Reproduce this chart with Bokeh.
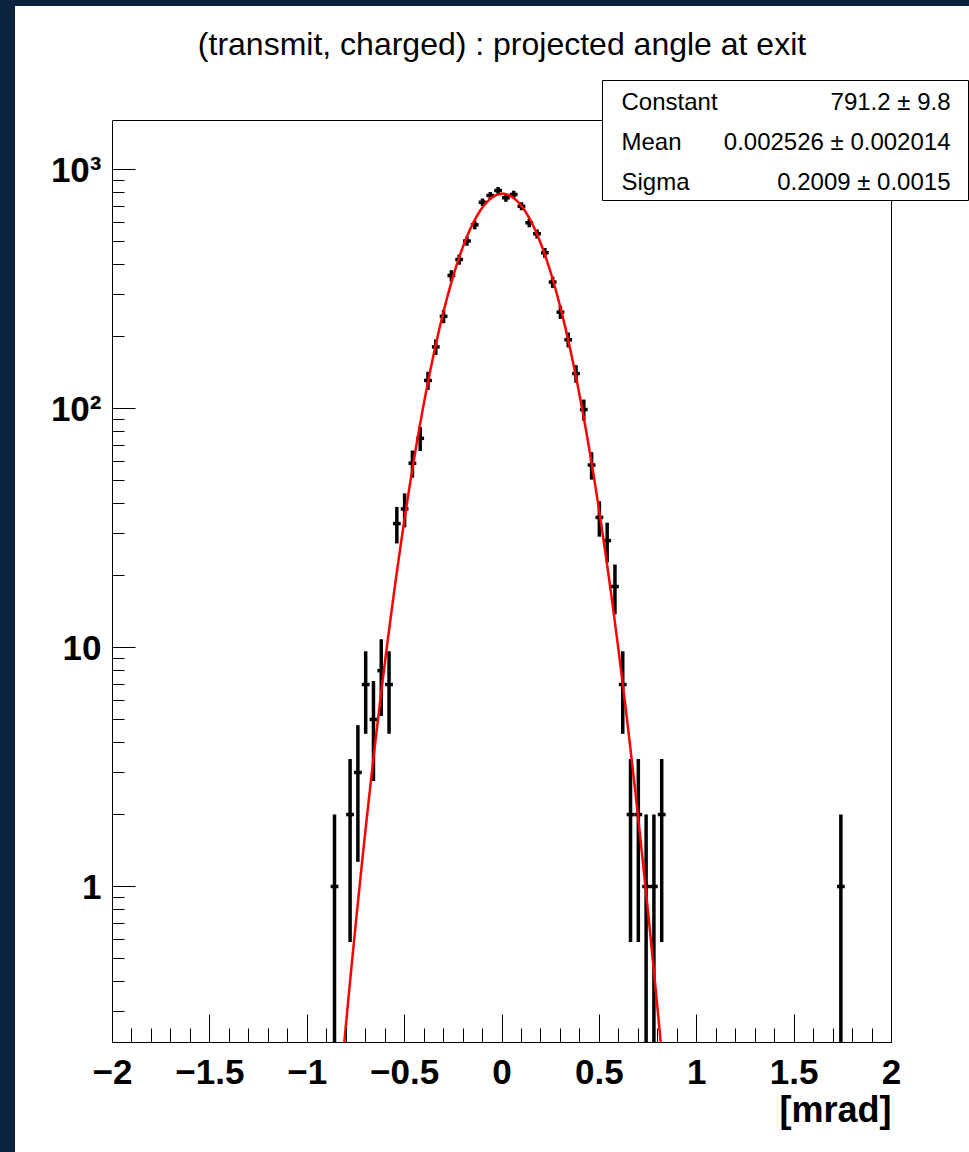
import numpy as np
from bokeh.plotting import figure
from bokeh.layouts import column, row
from bokeh.models import (Div, FixedTicker, CustomJSTickFormatter, Label,
                          BoxAnnotation, ColumnDataSource, Title)
from bokeh.embed import file_html
from bokeh.resources import INLINE

# ---- histogram: projected exit angle [mrad], 100 bins over [-2, 2] ----
x_min, x_max, n_bins = -2.0, 2.0, 100
bin_centers = [-0.86, -0.82, -0.78, -0.74, -0.70, -0.66, -0.62, -0.58, -0.54,
               -0.50, -0.46, -0.42, -0.38, -0.34, -0.30, -0.26, -0.22, -0.18,
               -0.14, -0.10, -0.06, -0.02, 0.02, 0.06, 0.10, 0.14, 0.18, 0.22,
               0.26, 0.30, 0.34, 0.38, 0.42, 0.46, 0.50, 0.54, 0.58, 0.62,
               0.66, 0.70, 0.74, 0.78, 0.82, 1.74]
bin_counts = [1, 0, 2, 3, 7, 5, 8, 7, 33,
              38, 59, 75, 131, 181, 243, 360, 420, 502,
              587, 730, 778, 817, 761, 786, 702, 598, 538, 448,
              338, 253, 194, 140, 99, 58, 35, 28, 18, 7,
              2, 2, 1, 1, 2, 1]

# ---- gaussian fit result ----
fit_names = ["Constant", "Mean", "Sigma"]
fit_texts = ["791.2 \u00b1 9.8", "0.002526 \u00b1 0.002014", "0.2009 \u00b1 0.0015"]
fit_constant, fit_mean, fit_sigma = 791.2, 0.002526, 0.2009

# ---- axes ----
x_tick_values = [-2, -1.5, -1, -0.5, 0, 0.5, 1, 1.5, 2]
x_tick_labels = ["\u22122", "\u22121.5", "\u22121", "\u22120.5", "0", "0.5", "1", "1.5", "2"]
y_tick_values = [1, 10, 100, 1000]
y_tick_labels = ["1", "10", "10\u00b2", "10\u00b3"]
y_min, y_max = 0.2225, 1603.0

title_text = "(transmit, charged) : projected angle at exit"
x_title = "[mrad]"

NAVY = "#0b223e"
FONT = "Liberation Sans"

# ---- geometry (pixels) ----
fig_w, fig_h = 954, 1146          # white canvas
pad_left, pad_top = 97, 0          # canvas edge -> plotting area
axis_w_px, axis_h_px = 779, 922    # histogram frame size
pad_bottom = 110
extra_right = fig_w - pad_left - axis_w_px            # room right of the histogram frame
extra_top = fig_h - pad_bottom - pad_top - axis_h_px  # room above the histogram frame

# extend the data ranges so the canvas area above/right of the frame is usable
x_per_px = (x_max - x_min) / axis_w_px
x_end = x_max + extra_right * x_per_px
dec_per_px = np.log10(y_max / y_min) / axis_h_px
y_end = y_max * 10 ** (extra_top * dec_per_px)

p = figure(width=fig_w, height=fig_h, x_range=(x_min, x_end), y_range=(y_min, y_end),
           y_axis_type="log", output_backend="svg", toolbar_location=None,
           title=None, min_border_left=pad_left, min_border_right=0,
           min_border_top=pad_top, min_border_bottom=pad_bottom)
p.grid.visible = False
p.outline_line_color = None
p.background_fill_color = "white"
p.border_fill_color = "white"

# x axis: labels every 0.5, minor ticks every 0.1, ticks pointing inward
bin_w = (x_max - x_min) / n_bins
xminor = list(np.round(np.arange(x_min, x_max + 1e-9, 0.1), 2))
p.xaxis.ticker = FixedTicker(ticks=x_tick_values, minor_ticks=xminor)
p.xaxis.formatter = CustomJSTickFormatter(
    args=dict(vals=x_tick_values, labs=x_tick_labels),
    code="const i = vals.findIndex(v => Math.abs(v - tick) < 1e-6); return i >= 0 ? labs[i] : '';")
p.xaxis.bounds = (x_min, x_max)
p.xaxis.major_tick_in = 28
p.xaxis.major_tick_out = 0
p.xaxis.minor_tick_in = 14
p.xaxis.minor_tick_out = 0
p.xaxis.major_label_standoff = 17

# y axis: decades with 2..9 minor ticks
yminor = [m * 10.0 ** d for d in range(-1, 4) for m in range(2, 10)]
yminor = [v for v in yminor if y_min <= v <= y_max]
p.yaxis.ticker = FixedTicker(ticks=y_tick_values, minor_ticks=yminor)
p.yaxis.formatter = CustomJSTickFormatter(
    args=dict(vals=y_tick_values, labs=y_tick_labels),
    code="const i = vals.findIndex(v => Math.abs(v - tick) < 1e-6 * v); return i >= 0 ? labs[i] : '';")
p.yaxis.bounds = (y_min, y_max)
p.yaxis.major_tick_in = 23
p.yaxis.major_tick_out = 0
p.yaxis.minor_tick_in = 12
p.yaxis.minor_tick_out = 0
p.yaxis.major_label_standoff = 11

for ax in (p.xaxis, p.yaxis):
    ax.axis_line_color = "black"
    ax.major_tick_line_color = "black"
    ax.minor_tick_line_color = "black"
    ax.major_label_text_font = FONT
    ax.major_label_text_font_style = "bold"
    ax.major_label_text_font_size = "35px"
    ax.major_label_text_color = "black"

# top and right edges of the histogram frame
p.segment(x0=[x_min, x_max], y0=[y_max, y_min], x1=[x_max, x_max], y1=[y_max, y_max],
          line_color="black", line_width=1)

# ---- data points with sqrt(N) errors ----
c = np.array(bin_centers, dtype=float)
n = np.array(bin_counts, dtype=float)
keep = n > 0
c, n = c[keep], n[keep]
err = np.sqrt(n)
lo = np.where(n - err > 0, n - err, y_min * 1e-3)
hi = n + err
src = ColumnDataSource(dict(x=c, y=n, lo=lo, hi=hi,
                            xl=c - bin_w / 2, xr=c + bin_w / 2))
p.segment(x0="x", y0="lo", x1="x", y1="hi", source=src,
          line_color="black", line_width=3.5)
p.segment(x0="xl", y0="y", x1="xr", y1="y", source=src,
          line_color="black", line_width=3.5)

# ---- fitted gaussian ----
xf = np.linspace(x_min, x_max, 1601)
yf = fit_constant * np.exp(-0.5 * ((xf - fit_mean) / fit_sigma) ** 2)
p.line(xf, yf, line_color="red", line_width=2.5)

# ---- title (screen units, origin at lower-left of the plotting area) ----
p.add_layout(Label(x=axis_w_px / 2, y=999, x_units="screen", y_units="screen",
                   text=title_text, text_align="center", text_baseline="middle",
                   text_font=FONT, text_font_size="32px", text_color="black"))

# ---- fit statistics box ----
p.add_layout(BoxAnnotation(left=490, right=856, bottom=842, top=962,
                           left_units="screen", right_units="screen",
                           bottom_units="screen", top_units="screen",
                           fill_color="white", fill_alpha=1.0,
                           line_color="black", line_width=1, line_alpha=1.0))
for i, (nm, tx) in enumerate(zip(fit_names, fit_texts)):
    yy = 941 - 40 * i
    p.add_layout(Label(x=509, y=yy, x_units="screen", y_units="screen", text=nm,
                       text_align="left", text_baseline="middle", text_font=FONT,
                       text_font_size="24px", text_color="black"))
    p.add_layout(Label(x=838, y=yy, x_units="screen", y_units="screen", text=tx,
                       text_align="right", text_baseline="middle", text_font=FONT,
                       text_font_size="24px", text_color="black"))

# ---- x axis title, right-aligned with the histogram frame ----
p.add_layout(Title(text=x_title, align="right", offset=extra_right,
                   text_font=FONT, text_font_style="bold", text_font_size="36px",
                   text_color="black", standoff=0), "below")

# ---- page border ----
top_strip = Div(width=969, height=6, margin=0, styles={"background-color": NAVY})
left_strip = Div(width=15, height=fig_h, margin=0, styles={"background-color": NAVY})
page = column(top_strip, row(left_strip, p, spacing=0), spacing=0)

open("out.html", "w").write(file_html(page, INLINE))
